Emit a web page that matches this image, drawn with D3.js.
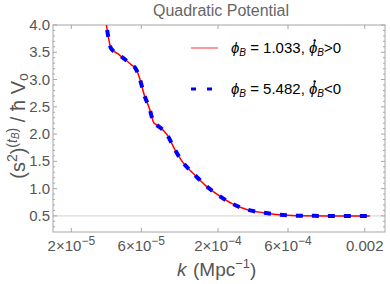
<!DOCTYPE html>
<html>
<head>
<meta charset="utf-8">
<script src="https://cdn.jsdelivr.net/npm/d3@7"></script>
<style>
  body { margin: 0; background: #fff; }
  svg { font-family: "Liberation Sans", Arial, sans-serif; }
</style>
</head>
<body>
<div id="chart"></div>
<script>
// values
const kRed = [3.4e-5, 3.47e-5, 3.65e-5, 3.71e-5, 4.21e-5, 5.14e-5, 5.50e-5, 5.85e-5, 6.23e-5, 6.85e-5, 7.29e-5, 7.61e-5, 9.04e-5, 1.014e-4, 1.145e-4, 1.319e-4, 1.389e-4, 1.625e-4, 2.0e-4, 2.47e-4, 3.21e-4, 4.06e-4, 5.28e-4, 6.87e-4, 1.16e-3, 2.17e-3]
const sRed = [4.2, 4.0, 3.66, 3.58, 3.46, 3.27, 3.20, 3.02, 2.75, 2.45, 2.21, 2.17, 1.98, 1.72, 1.49, 1.31, 1.25, 1.07, 0.885, 0.73, 0.61, 0.56, 0.52, 0.505, 0.5, 0.5]
const kBlue = [3.4e-5, 3.47e-5, 3.65e-5, 3.71e-5, 4.21e-5, 5.14e-5, 5.50e-5, 5.85e-5, 6.23e-5, 6.85e-5, 7.29e-5, 7.61e-5, 9.04e-5, 1.014e-4, 1.145e-4, 1.319e-4, 1.389e-4, 1.625e-4, 2.0e-4, 2.47e-4, 3.21e-4, 4.06e-4, 5.28e-4, 6.87e-4, 1.16e-3, 2.17e-3]
const sBlue = [4.2, 4.0, 3.66, 3.58, 3.46, 3.27, 3.20, 3.02, 2.75, 2.45, 2.21, 2.17, 1.98, 1.72, 1.49, 1.31, 1.25, 1.07, 0.885, 0.73, 0.61, 0.56, 0.52, 0.505, 0.5, 0.5]
const xTicks = [2e-5, 6e-5, 2e-4, 6e-4, 2e-3]
const xTickLabels = [["2×10", "−5"], ["6×10", "−5"], ["2×10", "−4"], ["6×10", "−4"], ["0.002", ""]]
const yTicks = [0.5, 1.0, 1.5, 2.0, 2.5, 3.0, 3.5, 4.0]
const yMinor = d3.range(3, 41).map(d => d / 10)
const legendLabels = [["1.033", ">0"], ["5.482", "<0"]]

const width = 390, height = 284
const m = { left: 53, right: 385, top: 25, bottom: 232 }

const svg = d3.select("#chart").append("svg")
    .attr("width", width)
    .attr("height", height)

const x = d3.scaleLog().domain([1.5e-5, 2.75e-3]).range([m.left, m.right])
const y = d3.scaleLinear().domain([0.205, 4.0]).range([m.bottom, m.top])

svg.append("defs").append("clipPath").attr("id", "clip")
    .append("rect")
    .attr("x", m.left).attr("y", m.top)
    .attr("width", m.right - m.left).attr("height", m.bottom - m.top)

// 0.5 reference line
svg.append("line")
    .attr("x1", m.left).attr("x2", m.right)
    .attr("y1", y(0.5)).attr("y2", y(0.5))
    .attr("stroke", "#d0d0d0")
    .attr("stroke-width", 1)

// frame
svg.append("rect")
    .attr("x", m.left).attr("y", m.top)
    .attr("width", m.right - m.left).attr("height", m.bottom - m.top)
    .attr("fill", "none")
    .attr("stroke", "#a6a6a6")
    .attr("stroke-width", 1)

const tickColor = "#a6a6a6"
// y ticks both sides
yMinor.forEach(v => {
    const major = yTicks.some(t => Math.abs(t - v) < 1e-9)
    const len = major ? 4 : 2
    svg.append("line").attr("x1", m.left).attr("x2", m.left + len)
        .attr("y1", y(v)).attr("y2", y(v)).attr("stroke", tickColor)
    svg.append("line").attr("x1", m.right).attr("x2", m.right - len)
        .attr("y1", y(v)).attr("y2", y(v)).attr("stroke", tickColor)
})
// x ticks top & bottom
xTicks.forEach(k => {
    svg.append("line").attr("x1", x(k)).attr("x2", x(k))
        .attr("y1", m.bottom).attr("y2", m.bottom - 4).attr("stroke", tickColor)
    svg.append("line").attr("x1", x(k)).attr("x2", x(k))
        .attr("y1", m.top).attr("y2", m.top + 4).attr("stroke", tickColor)
})

const labelColor = "#555555"
// y tick labels
yTicks.forEach(v => {
    svg.append("text")
        .attr("x", m.left - 3)
        .attr("y", y(v) + 5)
        .attr("text-anchor", "end")
        .attr("font-size", "15px")
        .attr("fill", labelColor)
        .text(v.toFixed(1))
})

// x tick labels
xTicks.forEach((k, i) => {
    const t = svg.append("text")
        .attr("x", x(k))
        .attr("y", 251)
        .attr("text-anchor", "middle")
        .attr("font-size", "15px")
        .attr("fill", labelColor)
    t.append("tspan").text(xTickLabels[i][0])
    if (xTickLabels[i][1]) {
        t.append("tspan").attr("dy", -6).attr("font-size", "12px").text(xTickLabels[i][1])
    }
})

// curves
const line = d3.line().x(d => x(d[0])).y(d => y(d[1])).curve(d3.curveMonotoneX)
const g = svg.append("g").attr("clip-path", "url(#clip)")
g.append("path")
    .datum(d3.zip(kRed, sRed))
    .attr("d", line)
    .attr("fill", "none")
    .attr("stroke", "#ff0000")
    .attr("stroke-width", 1.5)
g.append("path")
    .datum(d3.zip(kBlue, sBlue))
    .attr("d", line)
    .attr("fill", "none")
    .attr("stroke", "#0000ff")
    .attr("stroke-width", 4)
    .attr("stroke-dasharray", "7,9")

// title
svg.append("text")
    .attr("x", 221)
    .attr("y", 16)
    .attr("text-anchor", "middle")
    .attr("font-size", "16px")
    .attr("fill", "#666666")
    .text("Quadratic Potential")

// legend
const legY = [48, 89]
svg.append("line").attr("x1", 191).attr("x2", 218)
    .attr("y1", legY[0]).attr("y2", legY[0])
    .attr("stroke", "#ff5555").attr("stroke-width", 1.2)
svg.append("line").attr("x1", 191).attr("x2", 218)
    .attr("y1", legY[1]).attr("y2", legY[1])
    .attr("stroke", "#0000ff").attr("stroke-width", 3)
    .attr("stroke-dasharray", "5,11")
legendLabels.forEach((lab, i) => {
    const t = svg.append("text")
        .attr("x", 231)
        .attr("y", legY[i] + 5)
        .attr("font-size", "15px")
        .attr("fill", "#000")
    t.append("tspan").attr("font-style", "italic").text("ϕ")
    t.append("tspan").attr("font-style", "italic").attr("font-size", "10px").attr("dy", 3).text("B")
    t.append("tspan").attr("dy", -3).text(" = " + lab[0] + ", ")
    t.append("tspan").attr("font-style", "italic").text("ϕ")
    t.append("tspan").attr("font-style", "italic").attr("font-size", "10px").attr("dy", 3).text("B")
    t.append("tspan").attr("dy", -3).text(lab[1])
    // dot over the second phi
    const idx = 2 + (" = " + lab[0] + ", ").length
    const box = t.node().getExtentOfChar(idx)
    svg.append("circle")
        .attr("cx", box.x + box.width / 2 + 1.5)
        .attr("cy", box.y + 1.5)
        .attr("r", 1.2)
        .attr("fill", "#000")
})

// x axis label
const xl = svg.append("text")
    .attr("x", 177)
    .attr("y", 276)
    .attr("font-size", "19px")
    .attr("fill", labelColor)
xl.append("tspan").attr("font-style", "italic").text("k")
xl.append("tspan").attr("x", 193).text("(Mpc")
xl.append("tspan").attr("dy", -8).attr("font-size", "13px").text("−1")
xl.append("tspan").attr("dy", 8).text(")")

// y axis label
const yl = svg.append("text")
    .attr("transform", "translate(25,126) rotate(-90)")
    .attr("text-anchor", "middle")
    .attr("font-size", "20px")
    .attr("fill", labelColor)
yl.append("tspan").text("(s")
yl.append("tspan").attr("dy", -8).attr("font-size", "14px").text("2")
yl.append("tspan").attr("dy", 8).text(")")
yl.append("tspan").attr("dy", -8).attr("font-size", "14px").text("(")
yl.append("tspan").attr("font-size", "14px").attr("font-style", "italic").text("t")
yl.append("tspan").attr("font-size", "10px").attr("font-style", "italic").attr("dy", 2).text("B")
yl.append("tspan").attr("font-size", "14px").attr("dy", -2).text(")")
yl.append("tspan").attr("dy", 8).text(" / ħ V")
yl.append("tspan").attr("dy", 3).attr("font-size", "14px").text("o")
</script>
</body>
</html>
